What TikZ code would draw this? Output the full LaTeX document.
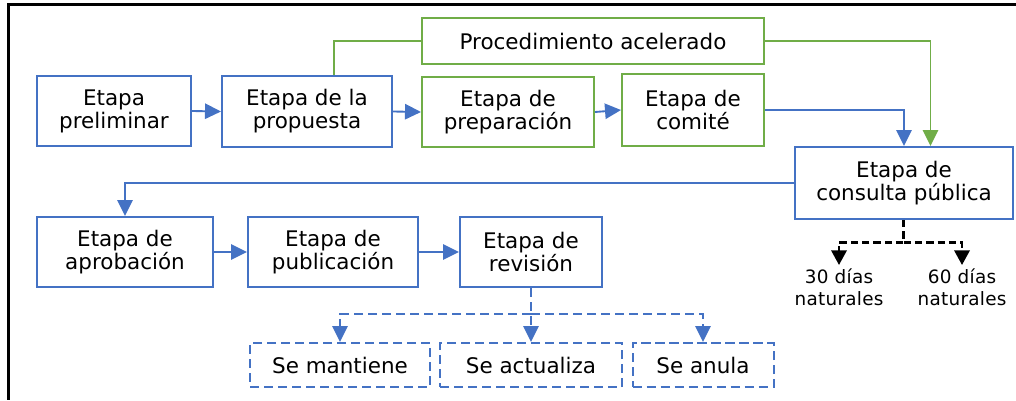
\documentclass[tikz,border=0pt]{standalone}
\usepackage{fontspec}
\setmainfont{DejaVu Sans}
\newfontfamily\lblfont[LetterSpace=1.5]{DejaVu Sans}
\usetikzlibrary{arrows.meta,positioning}
\definecolor{bblue}{HTML}{4472C4}
\definecolor{ggreen}{HTML}{70AD47}
\begin{document}
\begin{tikzpicture}[x=0.75pt,y=-0.75pt,
  sz/.style 2 args={minimum width=#1*0.75pt, minimum height=#2*0.75pt},
  stage/.style={draw=bblue,line width=1.5pt,align=center,inner sep=0pt,
     font=\fontsize{16.1}{17.3}\selectfont},
  gstage/.style={stage,draw=ggreen},
  dstage/.style={stage,dash pattern=on 7pt off 3.5pt},
  lbl/.style={align=center,inner xsep=0pt,inner ysep=3pt,font=\lblfont\fontsize{13.8}{16.5}\selectfont},
  conn/.style={draw=bblue,line width=1.4pt,-{Triangle[length=12pt,width=11.5pt]}},
  gconn/.style={conn,draw=ggreen},
  dconn/.style={conn,dash pattern=on 7pt off 3.5pt},
  kconn/.style={draw=black,line width=1.8pt,dash pattern=on 5.5pt off 3pt,-{Triangle[length=11pt,width=11.5pt]}},
  frameline/.style={draw=black,line width=1.9pt}
]
\useasboundingbox (0,0) rectangle (1016,400);
\coordinate (fTL) at (8.7,4.5);
\coordinate (fTR) at (1016,4.5);
\coordinate (fBL) at (8.7,400);
\draw[frameline] (fTR) -- (fTL) -- (fBL);

\node[stage, sz={154}{70}] (pre) at (114,111) {Etapa\\preliminar};
\node[stage, sz={170}{71}] (prop) at (307,111.5) {Etapa de la\\propuesta};
\node[gstage, sz={342}{46}] (acc) at (593,41) {Procedimiento acelerado};
\node[gstage, sz={172}{70}] (prep) at (508,112) {Etapa de\\preparación};
\node[gstage, sz={142}{72}] (com) at (693,110) {Etapa de\\comité};
\node[stage, sz={218}{72}] (cons) at (904,183) {Etapa de\\consulta pública};
\node[stage, sz={176}{70}] (apr) at (125,252) {Etapa de\\aprobación};
\node[stage, sz={170}{70}] (pub) at (333,252) {Etapa de\\publicación};
\node[stage, sz={142}{70}] (rev) at (531,252) {Etapa de\\revisión};
\node[dstage, sz={180}{44}] (man) at (340,365) {Se mantiene};
\node[dstage, sz={182}{44}] (act) at (531,365) {Se actualiza};
\node[dstage, sz={141}{44}] (anu) at (703,365) {Se anula};
\node[lbl, anchor=north] (d30) at (839,265) {30 días\\naturales};
\node[lbl, anchor=north] (d60) at (962,265) {60 días\\naturales};

\coordinate (gup) at (334,111);
\coordinate (gdn) at (930.5,183);
\coordinate (rj) at (531,314);
\coordinate (cj) at (903.5,242.5);

\draw[conn] (pre.east) -- (prop.west);
\draw[conn] (prop.east) -- (prep.west);
\draw[conn] (prep.east) -- (com.west);
\draw[conn] (com.east) -| (cons.north);
\draw[gconn] (acc.east) -| (gdn |- cons.north);
\draw[draw=ggreen,line width=1.4pt] (gup |- prop.north) |- (acc.west);
\draw[conn] (cons.west) -| (apr.north);
\draw[conn] (apr.east) -- (pub.west);
\draw[conn] (pub.east) -- (rev.west);
\draw[dconn] (rev.south) -- (act.north);
\draw[dconn] (rj) -| (man.north);
\draw[dconn] (rj) -| (anu.north);
\draw[kconn] (cons.south -| cj) |- (cj) -| (d30.north);
\draw[kconn] (cj) -| (d60.north);
\end{tikzpicture}
\end{document}
